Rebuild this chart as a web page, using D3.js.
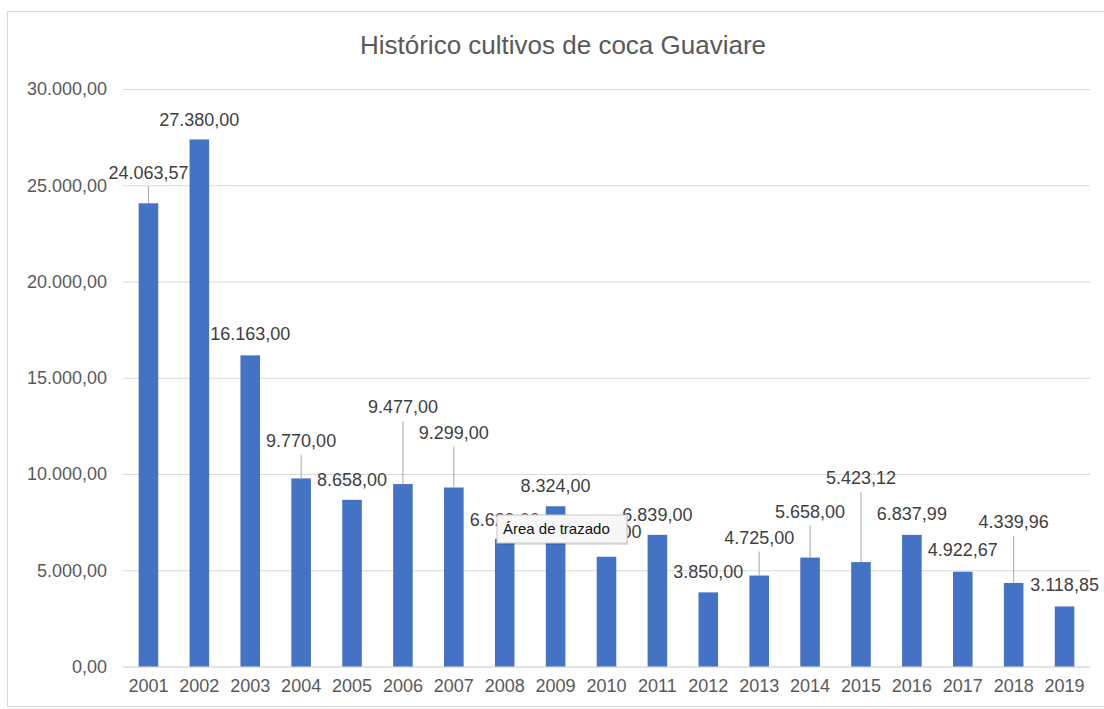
<!DOCTYPE html>
<html>
<head>
<meta charset="utf-8">
<script src="https://cdn.jsdelivr.net/npm/d3@7"></script>
<style>
  body { margin: 0; background: #fff; }
  text { font-family: "Liberation Sans", Arial, Helvetica, sans-serif; }
</style>
</head>
<body>
<div id="graph"></div>
<script>
var years = ["2001", "2002", "2003", "2004", "2005", "2006", "2007", "2008", "2009", "2010",
  "2011", "2012", "2013", "2014", "2015", "2016", "2017", "2018", "2019"];
var hectares = [24063.57, 27380, 16163, 9770, 8658, 9477, 9299, 6629, 8324, 5701,
  6839, 3850, 4725, 5658, 5423.12, 6837.99, 4922.67, 4339.96, 3118.85];
var yTicks = [0, 5000, 10000, 15000, 20000, 25000, 30000];
var title = "Histórico cultivos de coca Guaviare";

// label lift above each bar top (the labels were dragged by hand in the original)
var labelLift = [31, 20, 22, 38, 20, 77, 55, 19, 21, 25, 20, 21, 38, 46, 84, 21, 22, 61, 22];

var width = 1104, height = 709;
var margin = {top: 89, right: 14, bottom: 42.5, left: 123};
var innerW = width - margin.left - margin.right,
  innerH = height - margin.top - margin.bottom;

var es = d3.formatLocale({decimal: ",", thousands: ".", grouping: [3], currency: ["", ""]});
var fmt = es.format(",.2f");

var svg = d3.select("#graph").append("svg")
  .attr("width", width)
  .attr("height", height);

// chart frame
svg.append("rect")
  .attr("x", 7.5).attr("y", 11.5)
  .attr("width", width + 10).attr("height", 695)
  .attr("fill", "#fff")
  .attr("stroke", "#d9d9d9");

svg.append("text")
  .attr("x", 563).attr("y", 54)
  .attr("text-anchor", "middle")
  .attr("font-size", 26)
  .attr("fill", "#595959")
  .text(title);

var g = svg.append("g")
  .attr("transform", "translate(" + margin.left + "," + margin.top + ")");

var x = d3.scaleBand().domain(years).range([0, innerW])
  .paddingInner(1.6 / 2.6).paddingOuter(0.8 / 2.6);
var y = d3.scaleLinear().domain([0, 30000]).range([innerH, 0]);

// gridlines + y labels
var yAxis = d3.axisLeft(y).tickValues(yTicks).tickSize(-innerW).tickPadding(16).tickFormat(fmt);
g.append("g").attr("class", "y axis").call(yAxis)
  .call(function (a) {
    a.select(".domain").remove();
    a.selectAll("line").attr("stroke", "#d9d9d9");
    a.selectAll("text").attr("font-size", 18).attr("fill", "#595959")
      .attr("font-family", "Liberation Sans, Arial, sans-serif");
  });

// x labels
var xAxis = d3.axisBottom(x).tickSize(0).tickPadding(13);
g.append("g").attr("class", "x axis")
  .attr("transform", "translate(0," + innerH + ")")
  .call(xAxis)
  .call(function (a) {
    a.select(".domain").attr("stroke", "#d9d9d9");
    a.selectAll("text").attr("font-size", 18).attr("fill", "#595959")
      .attr("font-family", "Liberation Sans, Arial, sans-serif");
  });

var data = years.map(function (yr, i) {
  return {year: yr, value: hectares[i], lift: labelLift[i]};
});

// bars
g.selectAll(".value-bar")
  .data(data)
  .enter()
  .append("rect")
  .attr("class", "value-bar")
  .attr("x", function (d) { return x(d.year); })
  .attr("width", x.bandwidth())
  .attr("y", function (d) { return y(d.value); })
  .attr("height", function (d) { return innerH - y(d.value); })
  .attr("fill", "#4472c4");

// leader lines for labels that sit far from their bar
g.selectAll(".leader")
  .data(data.filter(function (d) { return d.lift > 28; }))
  .enter()
  .append("line")
  .attr("class", "leader")
  .attr("x1", function (d) { return x(d.year) + x.bandwidth() / 2; })
  .attr("x2", function (d) { return x(d.year) + x.bandwidth() / 2; })
  .attr("y1", function (d) { return y(d.value); })
  .attr("y2", function (d) { return y(d.value) - d.lift + 14; })
  .attr("stroke", "#a6a6a6")
  .attr("stroke-width", 1);

// data labels
g.selectAll(".bar-label")
  .data(data)
  .enter()
  .append("text")
  .attr("class", "bar-label")
  .attr("x", function (d) { return x(d.year) + x.bandwidth() / 2; })
  .attr("y", function (d) { return y(d.value) - d.lift; })
  .attr("dy", "0.35em")
  .attr("text-anchor", "middle")
  .attr("font-size", 18)
  .attr("fill", "#404040")
  .text(function (d) { return fmt(d.value); });

// hover tooltip captured in the screenshot
var tip = svg.append("g").attr("transform", "translate(497,515)");
tip.append("rect")
  .attr("x", 1).attr("y", 2)
  .attr("width", 130).attr("height", 28)
  .attr("fill", "#000").attr("opacity", 0.12);
tip.append("rect")
  .attr("width", 130).attr("height", 28)
  .attr("fill", "#f7f7f7")
  .attr("stroke", "#c8c8c8");
tip.append("text")
  .attr("x", 6).attr("y", 19)
  .attr("font-size", 15)
  .attr("fill", "#111")
  .text("Área de trazado");
</script>
</body>
</html>
